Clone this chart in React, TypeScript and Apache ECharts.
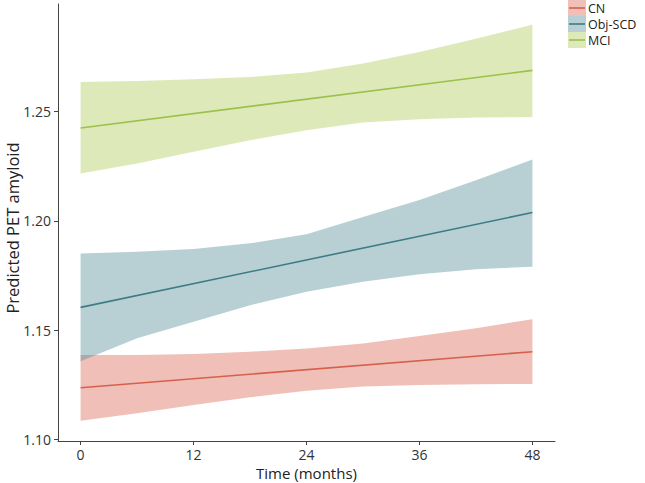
import React, { useEffect, useRef } from "react";
import * as echarts from "echarts";

const months = [0, 6, 12, 18, 24, 30, 36, 42, 48];
const lineMonths = [0, 48];

const cnLower = [1.1085, 1.1119, 1.1157, 1.1192, 1.1222, 1.1241, 1.1248, 1.1252, 1.1253];
const cnUpper = [1.1386, 1.1386, 1.139, 1.1401, 1.1416, 1.1439, 1.1473, 1.1508, 1.155];
const cnMean = [1.1236, 1.1401];

const scdLower = [1.1357, 1.1462, 1.1538, 1.1614, 1.1675, 1.1721, 1.1756, 1.1778, 1.179];
const scdUpper = [1.1851, 1.1858, 1.1871, 1.1897, 1.1939, 1.2018, 1.2095, 1.2186, 1.2281];
const scdMean = [1.1604, 1.2038];

const mciLower = [1.2217, 1.2263, 1.2316, 1.2369, 1.2415, 1.245, 1.2465, 1.2473, 1.2476];
const mciUpper = [1.2636, 1.264, 1.2648, 1.2659, 1.2679, 1.272, 1.2773, 1.2834, 1.2898];
const mciMean = [1.2425, 1.2689];

const groups = ["CN", "Obj-SCD", "MCI"];
const xTicks = [0, 12, 24, 36, 48];
const yTicks = [1.1, 1.15, 1.2, 1.25];
const yTitle = "Predicted PET amyloid";
const xTitle = "Time (months)";

const FONT = "Open Sans";

export default function App() {
  const ref = useRef<HTMLDivElement>(null);
  useEffect(() => {
    if (!ref.current) return;
    const chart = echarts.init(ref.current, null, { renderer: "svg" });
    const defs = [
      { name: groups[0], lower: cnLower, upper: cnUpper, mean: cnMean, line: "#d6604d", fill: "rgba(214,96,77,0.4)" },
      { name: groups[1], lower: scdLower, upper: scdUpper, mean: scdMean, line: "#3d7c85", fill: "rgba(78,138,148,0.4)" },
      { name: groups[2], lower: mciLower, upper: mciUpper, mean: mciMean, line: "#9cc14a", fill: "rgba(172,200,80,0.4)" },
    ];
    const series: any[] = [];
    defs.forEach((d) => {
      series.push({
        type: "custom",
        silent: true,
        z: 1,
        data: [[months[0], d.lower[0]]],
        renderItem: (params: any, api: any) => {
          const pts: number[][] = [];
          months.forEach((m, k) => pts.push(api.coord([m, d.upper[k]])));
          for (let k = months.length - 1; k >= 0; k--) pts.push(api.coord([months[k], d.lower[k]]));
          return {
            type: "polygon",
            shape: { points: pts },
            style: { fill: d.fill, stroke: "none" },
          };
        },
      });
      series.push({
        type: "line",
        name: d.name,
        data: lineMonths.map((m, k) => [m, d.mean[k]]),
        lineStyle: { color: d.line, width: 1.6 },
        showSymbol: false,
        silent: true,
        z: 3,
      });
    });

    const pitch = 16;
    const graphics: any[] = [];
    defs.forEach((d, i) => {
      const top = i * pitch;
      graphics.push({
        type: "rect",
        shape: { x: 568, y: top, width: 18, height: pitch },
        style: { fill: d.fill },
      });
      graphics.push({
        type: "line",
        shape: { x1: 569, y1: top + pitch / 2, x2: 585, y2: top + pitch / 2 },
        style: { stroke: d.line, lineWidth: 1.6 },
      });
      graphics.push({
        type: "text",
        x: 588,
        y: top + pitch / 2,
        style: {
          text: d.name,
          fontFamily: FONT,
          fontSize: 12.5,
          fill: "#222",
          verticalAlign: "middle",
        },
      });
    });
    graphics.push({
      type: "text",
      x: 12,
      y: 228,
      rotation: Math.PI / 2,
      style: {
        text: yTitle,
        fontFamily: FONT,
        fontSize: 16.5,
        fill: "#222",
        align: "center",
        verticalAlign: "middle",
      },
    });

    chart.setOption({
      animation: false,
      grid: { left: 58, right: 90, top: 4, bottom: 42, containLabel: false, outerBoundsMode: "none" },
      xAxis: {
        type: "value",
        min: -2.4,
        max: 50.4,
        name: xTitle,
        nameLocation: "middle",
        nameGap: 18,
        nameTextStyle: { fontFamily: FONT, fontSize: 15, color: "#222" },
        splitLine: { show: false },
        axisLine: { onZero: false, lineStyle: { color: "#444", width: 1 } },
        axisTick: { customValues: xTicks, length: 4, lineStyle: { color: "#444" } },
        axisLabel: { customValues: xTicks, fontFamily: FONT, fontSize: 14, color: "#333", margin: 6 },
      },
      yAxis: {
        type: "value",
        min: 1.0992,
        max: 1.2993,
        splitLine: { show: false },
        axisLine: { show: true, onZero: false, lineStyle: { color: "#444", width: 1 } },
        axisTick: { show: true, customValues: yTicks, length: 4, lineStyle: { color: "#444" } },
        axisLabel: {
          customValues: yTicks,
          fontFamily: FONT,
          fontSize: 14,
          color: "#333",
          margin: 7,
          formatter: (v: number) => v.toFixed(2),
        },
      },
      series,
      graphic: graphics,
    });
    return () => chart.dispose();
  }, []);
  return <div ref={ref} style={{ position: "absolute", left: 0, top: 0, width: 645, height: 483 }} />;
}
